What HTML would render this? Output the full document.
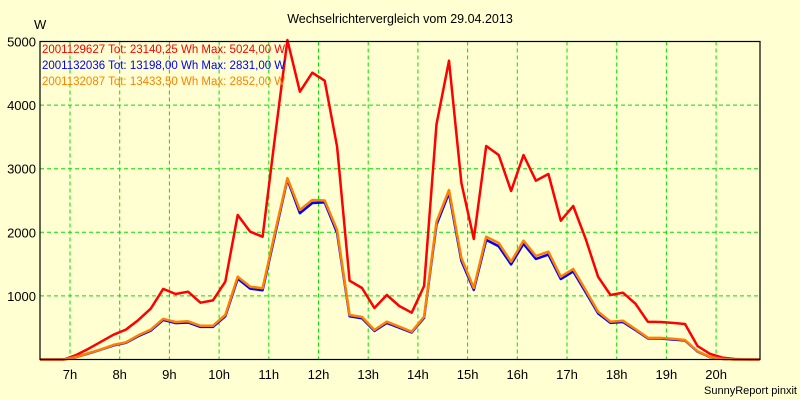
<!DOCTYPE html>
<html><head><meta charset="utf-8"><style>
html,body{margin:0;padding:0;background:#ffffd2;}
svg{display:block;font-family:"Liberation Sans",sans-serif;}
</style></head><body>
<svg id="chart" width="800" height="400">
<rect x="0" y="0" width="800" height="400" fill="#ffffd2"/>
<text x="400" y="23" font-size="12.5" text-anchor="middle">Wechselrichtervergleich vom 29.04.2013</text>
<text x="34" y="29" font-size="13">W</text>
<text x="797" y="394" font-size="11" text-anchor="end">SunnyReport pinxit</text>
<g id="grid"></g>
<g id="series"></g>
<rect x="40" y="41.5" width="720" height="318" fill="none" stroke="#000" stroke-width="1.2"/>
<g id="legend" font-size="11.5">
<text x="42" y="53" fill="#ff0000">2001129627 Tot: 23140,25 Wh Max: 5024,00 W</text>
<text x="42" y="69" fill="#0000ff">2001132036 Tot: 13198,00 Wh Max: 2831,00 W</text>
<text x="42" y="85" fill="#ff8000">2001132087 Tot: 13433,50 Wh Max: 2852,00 W</text>
</g>
</svg>
<script>
const times=[6.375,6.625,6.875,7.125,7.375,7.625,7.875,8.125,8.375,8.625,8.875,9.125,9.375,9.625,9.875,10.125,10.375,10.625,10.875,11.125,11.375,11.625,11.875,12.125,12.375,12.625,12.875,13.125,13.375,13.625,13.875,14.125,14.375,14.625,14.875,15.125,15.375,15.625,15.875,16.125,16.375,16.625,16.875,17.125,17.375,17.625,17.875,18.125,18.375,18.625,18.875,19.125,19.375,19.625,19.875,20.125,20.375,20.625,20.875];
const redVals=[0,0,0,70,170,280,390,470,620,800,1110,1030,1066,893,930,1223,2272,2010,1931,3500,5024,4211,4510,4384,3346,1239,1124,810,1014,841,736,1156,3700,4698,2775,1895,3357,3215,2650,3215,2811,2917,2182,2413,1900,1300,1014,1050,880,594,590,575,558,212,90,30,8,0,0];
const blueVals=[0,0,0,38,96,155,222,262,368,455,622,572,582,512,512,680,1270,1115,1090,1960,2831,2300,2460,2470,1990,680,648,450,576,500,424,655,2120,2620,1550,1095,1880,1780,1495,1820,1580,1650,1265,1385,1060,725,575,590,465,332,330,315,298,125,38,10,0,0,0];
const orangeVals=[0,0,0,40,100,160,230,270,380,470,640,590,600,530,530,700,1302,1145,1119,2000,2852,2350,2508,2500,2036,700,668,464,594,516,437,673,2167,2665,1596,1124,1931,1832,1538,1868,1627,1695,1302,1423,1093,752,594,610,480,343,340,325,307,130,40,10,0,0,0];
const yTicks=[1000,2000,3000,4000,5000];
const xTicks=[7,8,9,10,11,12,13,14,15,16,17,18,19,20];
const NS="http://www.w3.org/2000/svg";
function xs(t){return 70+(t-7)*49.7;}
function ys(v){return 359.5-v*0.0636;}
const grid=document.getElementById('grid');
const svg=document.getElementById('chart');
yTicks.forEach(v=>{
 const l=document.createElementNS(NS,'line');
 l.setAttribute('x1',40);l.setAttribute('x2',760);l.setAttribute('y1',ys(v));l.setAttribute('y2',ys(v));
 l.setAttribute('stroke','#00e000');l.setAttribute('stroke-dasharray','4,3');
 
 
 grid.appendChild(l);
 const t=document.createElementNS(NS,'text');
 t.setAttribute('x',36);t.setAttribute('y',ys(v)+5);t.setAttribute('text-anchor','end');t.setAttribute('font-size','13');
 t.textContent=v;
 
 
 svg.appendChild(t);
});
xTicks.forEach(h=>{
 const l=document.createElementNS(NS,'line');
 l.setAttribute('x1',xs(h));l.setAttribute('x2',xs(h));l.setAttribute('y1',41.5);l.setAttribute('y2',359.5);
 l.setAttribute('stroke','#00e000');l.setAttribute('stroke-dasharray','4,3');
 
 
 grid.appendChild(l);
 const t=document.createElementNS(NS,'text');
 t.setAttribute('x',xs(h));t.setAttribute('y',379);t.setAttribute('text-anchor','middle');t.setAttribute('font-size','13');
 t.textContent=h+'h';
 
 
 svg.appendChild(t);
});
const ser=document.getElementById('series');
const clip=document.createElementNS(NS,'clipPath');clip.setAttribute('id','pc');
const cr=document.createElementNS(NS,'rect');cr.setAttribute('x',40);cr.setAttribute('y',30);cr.setAttribute('width',720);cr.setAttribute('height',331);
clip.appendChild(cr);svg.insertBefore(clip,svg.firstChild);
[[redVals,'#ff0000','series-inverter-1'],[blueVals,'#0000ff','series-inverter-2'],[orangeVals,'#ff8000','series-inverter-3']].forEach(([vals,col,name])=>{
 const p=document.createElementNS(NS,'polyline');
 p.setAttribute('points',vals.map((v,i)=>xs(times[i]).toFixed(1)+','+ys(v).toFixed(1)).join(' '));
 p.setAttribute('fill','none');p.setAttribute('stroke',col);p.setAttribute('stroke-width','2.5');
 p.setAttribute('stroke-linejoin','round');p.setAttribute('clip-path','url(#pc)');
 
 
 ser.appendChild(p);
});
</script>
</body></html>
